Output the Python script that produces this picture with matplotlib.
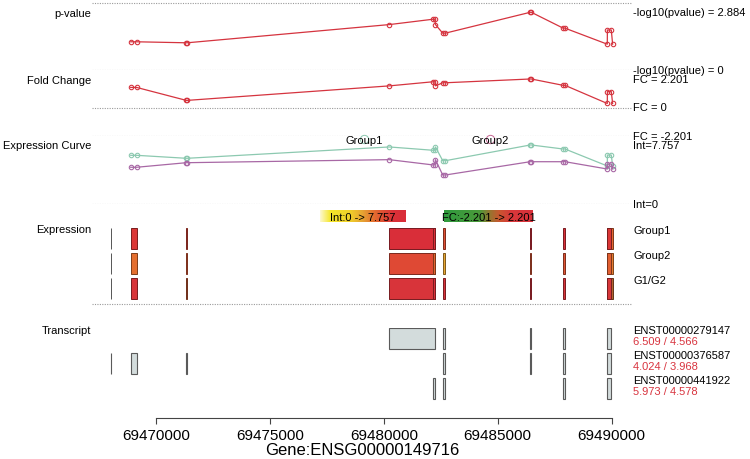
import numpy as np
import matplotlib
matplotlib.use("Agg")
import matplotlib.pyplot as plt
from matplotlib.colors import LinearSegmentedColormap, to_rgb
from matplotlib.lines import Line2D
from matplotlib.patches import Rectangle

plt.rcParams['font.family'] = ['Liberation Sans', 'DejaVu Sans']

# exon bins (genomic positions)
starts = [69468010, 69468890, 69471330, 69480245, 69482180, 69482590, 69486430, 69487880, 69489815, 69489820]
ends   = [69468040, 69469150, 69471370, 69482270, 69482240, 69482700, 69486480, 69487960, 69490050, 69489990]

pvalue = [np.nan, 1.41, 1.36, 2.27, 2.54, 1.84, 2.884, 2.09, 1.29, 2.00]
fold_change = [np.nan, 1.55, 0.55, 1.67, 1.99, 1.91, 2.201, 1.71, 0.31, 1.23]
group1 = [np.nan, 6.40, 6.01, 7.50, 7.06, 5.69, 7.757, 7.23, 5.00, 6.44]
group2 = [np.nan, 4.83, 5.43, 5.83, 5.13, 3.81, 5.56, 5.56, 4.60, 5.26]

p_max = 2.884
fc_max = 2.201
int_max = 7.757

transcripts = ['ENST00000279147', 'ENST00000376587', 'ENST00000441922']
transcript_expr = ['6.509 / 4.566', '4.024 / 3.968', '5.973 / 4.578']
transcript_exons = [[3, 5, 6, 7, 9], [0, 1, 2, 5, 6, 7, 9], [4, 5, 7, 9]]

heat_rows = ['Group1', 'Group2', 'G1/G2']
xticks = [69470000, 69475000, 69480000, 69485000, 69490000]
gene = 'Gene:ENSG00000149716'

W, H = 750, 460
fig = plt.figure(figsize=(7.5, 4.6), dpi=100)
XL, XR = 92, 632
xlim = (69467190, 69490900)

RED = '#d5343f'
GREEN = '#8cc9b0'
PURPLE = '#a868a5'
DOT = dict(color='#9a9a9a', lw=0.8, ls=(0, (1, 1.2)))


def px_axes(top, bottom):
    ax = fig.add_axes([XL / W, 1 - bottom / H, (XR - XL) / W, (bottom - top) / H])
    ax.set_xlim(*xlim)
    ax.axis('off')
    return ax


def sep_line(y):
    fig.add_artist(Line2D([XL / W, XR / W], [1 - y / H] * 2, **DOT))


def curve(ax, vals, color):
    pts = []
    for s, e, v in zip(starts, ends, vals):
        if not np.isnan(v):
            pts.append((s, v))
            pts.append((e, v))
    pts.sort()
    xs = [p[0] for p in pts]
    ys = [p[1] for p in pts]
    ax.plot(xs, ys, color=color, lw=0.9, marker='o', ms=3.2, mfc='none', mew=0.8, clip_on=False)


def right_label(ax, y, txt, color='black'):
    ax.text(1.002, y, txt, transform=ax.get_yaxis_transform(), ha='left', va='center',
            fontsize=8, color=color)


def left_label(ypx, txt):
    fig.text((XL - 1) / W, 1 - ypx / H, txt, ha='right', va='center', fontsize=8)


sep_line(4)
sep_line(305)

# p-value panel
ax_p = px_axes(13.3, 71)
ax_p.set_ylim(0, p_max)
ax_p.axhline(0, **DOT)
curve(ax_p, pvalue, RED)
right_label(ax_p, p_max, '-log10(pvalue) = %s' % p_max)
right_label(ax_p, 0, '-log10(pvalue) = 0')
left_label(14, 'p-value')

# fold change panel
ax_fc = px_axes(80, 137)
ax_fc.set_ylim(-fc_max, fc_max)
ax_fc.axhline(0, **DOT)
ax_fc.axhline(-fc_max, **DOT)
curve(ax_fc, fold_change, RED)
right_label(ax_fc, fc_max, 'FC = %s' % fc_max)
right_label(ax_fc, 0, 'FC = 0')
right_label(ax_fc, -fc_max, 'FC = -%s' % fc_max)
left_label(80.7, 'Fold Change')

# expression curve panel
ax_c = px_axes(146, 205)
ax_c.set_ylim(0, int_max)
ax_c.axhline(0, **DOT)
curve(ax_c, group1, GREEN)
curve(ax_c, group2, PURPLE)
right_label(ax_c, int_max, 'Int=%s' % int_max)
right_label(ax_c, 0, 'Int=0')
left_label(146, 'Expression Curve')
for xf, name, col, dx in [(0.504, 'Group1', GREEN, -0.0), (0.737, 'Group2', '#c56592', 0.0)]:
    ax_c.text(xf, 1.09, name, transform=ax_c.transAxes, ha='center', va='center', fontsize=8)
    ax_c.plot([xf + dx], [1.11], transform=ax_c.transAxes, marker='o', ms=6, mfc='none',
              mec=col, mew=0.7, clip_on=False)

# colour scales
int_cmap = LinearSegmentedColormap.from_list('int', [
    (0.0, '#fdf8d2'), (0.12, '#f5e72a'), (0.35, '#f0cf2a'), (0.5, '#e6a233'),
    (0.62, '#e4702f'), (0.75, '#df4a34'), (0.85, '#da3137'), (1.0, '#d92d3a')])
fc_cmap = LinearSegmentedColormap.from_list('fc', [
    (0.0, '#2f9a3e'), (0.4, '#4a9a3a'), (0.5, '#8e7a30'), (0.62, '#c9572f'),
    (0.75, '#d8383a'), (1.0, '#d8303a')])
grad = np.linspace(0, 1, 256)[None, :]
for x0, x1, cm, txt in [(320, 406, int_cmap, 'Int:0 -> %s' % int_max),
                        (444, 533, fc_cmap, 'FC:-%s -> %s' % (fc_max, fc_max))]:
    cax = fig.add_axes([x0 / W, 1 - 223 / H, (x1 - x0) / W, 12 / H])
    cax.imshow(grad, cmap=cm, aspect='auto')
    cax.axis('off')
    cax.text(0.5, 0.45, txt, transform=cax.transAxes, ha='center', va='center', fontsize=8)

# expression heatmap
ax_h = px_axes(229, 304)
ax_h.set_ylim(3, 0)
left_label(230, 'Expression')
row_vals = [group1, group2, fold_change]
for r, (vals, label) in enumerate(zip(row_vals, heat_rows)):
    for s, e, v in zip(starts, ends, vals):
        if np.isnan(v):
            face = np.array(to_rgb('#9a9a9a'))
        elif r < 2:
            face = np.array(int_cmap(v / int_max)[:3])
        else:
            face = np.array(fc_cmap((v + fc_max) / (2 * fc_max))[:3])
        ax_h.add_patch(Rectangle((s, r), e - s, 0.84, facecolor=face,
                                 edgecolor=face * 0.55, lw=0.7))
    right_label(ax_h, r + 0.07, label)

# transcripts
ax_t = px_axes(329, 404)
ax_t.set_ylim(3, 0)
left_label(330.7, 'Transcript')
for r, (name, expr, exons) in enumerate(zip(transcripts, transcript_expr, transcript_exons)):
    for i in exons:
        ax_t.add_patch(Rectangle((starts[i], r), ends[i] - starts[i], 0.84,
                                 facecolor='#d3dcdc', edgecolor='#5a5a5a', lw=0.8))
    right_label(ax_t, r + 0.07, name)
    right_label(ax_t, r + 0.52, expr, color='#d8343f')

# genomic axis
ax_x = fig.add_axes([XL / W, 1 - 419 / H, (XR - XL) / W, 5 / H])
ax_x.set_xlim(*xlim)
for side in ['top', 'left', 'right']:
    ax_x.spines[side].set_visible(False)
ax_x.spines['bottom'].set_bounds(xticks[0], xticks[-1])
ax_x.spines['bottom'].set_color('#444444')
ax_x.set_yticks([])
ax_x.set_xticks(xticks)
ax_x.ticklabel_format(axis='x', useOffset=False, style='plain')
ax_x.tick_params(axis='x', length=4, width=0.8, color='#444444', labelsize=11, pad=3)
ax_x.set_xlabel(gene, fontsize=12, labelpad=0)
ax_x.patch.set_visible(False)

fig.savefig('out.png', dpi=100)
